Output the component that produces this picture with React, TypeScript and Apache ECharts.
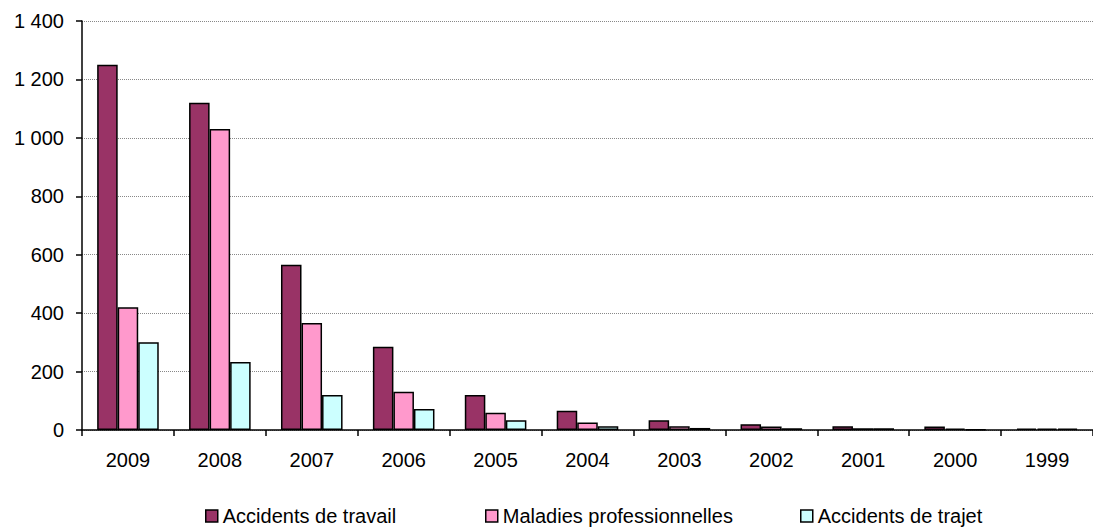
import React, { useEffect, useRef } from "react";
import * as echarts from "echarts";

const categories = ["2009", "2008", "2007", "2006", "2005", "2004", "2003", "2002", "2001", "2000", "1999"];
const accidentsTravail = [1250, 1120, 566, 285, 120, 66, 33, 20, 13, 12, 5];
const maladiesPro = [420, 1030, 366, 131, 59, 26, 13, 12, 6, 5, 5];
const accidentsTrajet = [300, 233, 120, 72, 33, 13, 7, 6, 6, 1, 5];
const seriesNames = ["Accidents de travail", "Maladies professionnelles", "Accidents de trajet"];
const colors = ["#993366", "#FF99CC", "#CCFFFF"];
const legendLefts = [205, 485, 800];

const fmt = (v: number) => String(v).replace(/\B(?=(\d{3})+(?!\d))/g, " ");

export default function App() {
  const ref = useRef<HTMLDivElement>(null);
  useEffect(() => {
    document.body.style.margin = "0";
    const chart = echarts.init(ref.current!, null, { renderer: "svg" });
    const font = "'Liberation Sans', Arial, sans-serif";
    const data = [accidentsTravail, maladiesPro, accidentsTrajet];
    chart.setOption({
      animation: false,
      textStyle: { fontFamily: font },
      grid: { left: 82, right: -9, top: 21, bottom: 97, containLabel: false },
      legend: seriesNames.map((name, i) => ({
        top: 506,
        left: legendLefts[i],
        padding: 0,
        itemWidth: 12,
        itemHeight: 12,
        icon: "rect",
        itemStyle: { borderColor: "#000", borderWidth: 1.5 },
        textStyle: { fontSize: 20, color: "#000", fontFamily: font },
        data: [name],
      })),
      xAxis: {
        type: "category",
        data: categories,
        axisLine: { lineStyle: { color: "#000", width: 1.5 } },
        axisTick: { show: true, length: 6, lineStyle: { color: "#000", width: 1.5 } },
        axisLabel: { color: "#000", fontSize: 20, margin: 20, fontFamily: font },
      },
      yAxis: {
        type: "value",
        min: 0,
        max: 1400,
        interval: 200,
        axisLine: { show: true, lineStyle: { color: "#000", width: 1.5 } },
        axisTick: { show: true, length: 6, lineStyle: { color: "#000", width: 1.5 } },
        axisLabel: { color: "#000", fontSize: 20, margin: 18, formatter: fmt, fontFamily: font },
        splitLine: { show: true, lineStyle: { color: "#888", type: "dotted", width: 1 } },
      },
      series: seriesNames.map((name, i) => ({
        name,
        type: "bar",
        data: data[i],
        barGap: "0%",
        barCategoryGap: "33%",
        itemStyle: { color: colors[i], borderColor: "#000", borderWidth: 1.5 },
      })),
    });
    return () => chart.dispose();
  }, []);
  return <div ref={ref} style={{ width: 1093, height: 527 }} />;
}
